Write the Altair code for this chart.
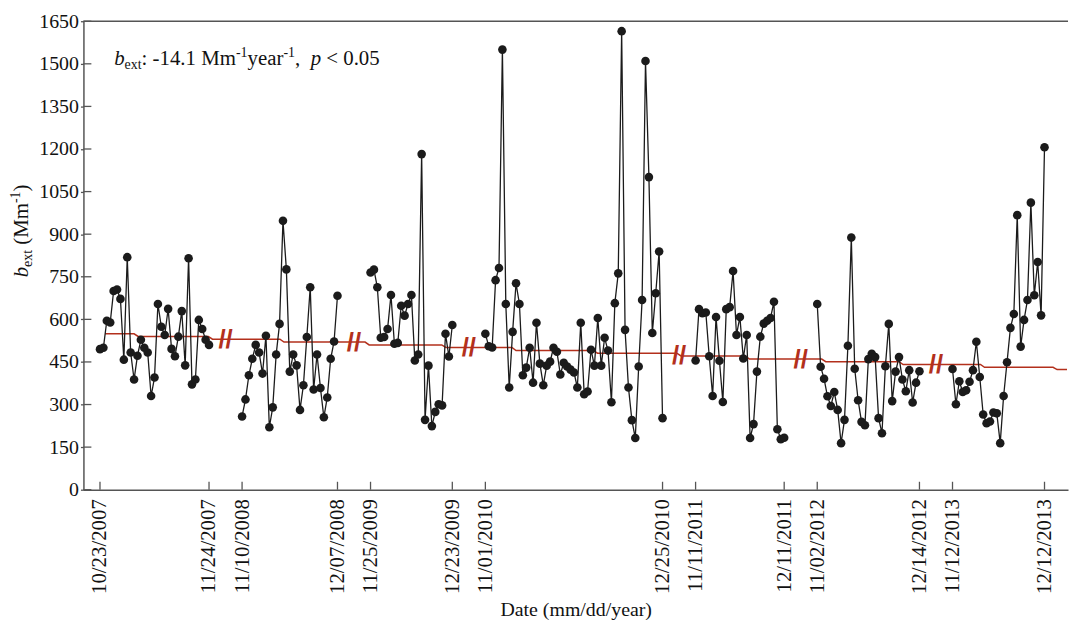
import altair as alt
import pandas as pd
import numpy as np

# ---------------- data ----------------
start_labels = ["10/23/2007", "11/10/2008", "11/25/2009", "11/01/2010", "11/11/2011", "11/02/2012", "11/12/2013"]
end_labels = ["11/24/2007", "12/07/2008", "12/23/2009", "12/25/2010", "12/11/2011", "12/14/2012", "12/12/2013"]

s1 = [495, 500, 595, 589, 700, 705, 672, 458, 819, 483, 388, 472, 528, 500, 483, 330, 395,
      654, 574, 545, 637, 496, 470, 539, 629, 438, 815, 371, 388, 598, 566, 528, 510]
s2 = [258, 318, 403, 461, 510, 483, 409, 542, 220, 290, 476, 584, 947, 776, 416, 476, 438,
      281, 368, 538, 713, 353, 476, 358, 255, 325, 461, 522, 683]
s3 = [765, 775, 713, 535, 538, 566, 686, 514, 517, 648, 613, 654, 686, 455, 476, 1182, 246,
      437, 224, 274, 301, 297, 549, 469, 580]
s4 = [549, 505, 501, 738, 781, 1550, 654, 360, 556, 727, 654, 403, 430, 500, 377, 588, 444,
      368, 437, 451, 500, 486, 406, 447, 434, 423, 413, 360, 588, 336, 346, 493, 437, 605,
      437, 535, 490, 308, 657, 762, 1615, 563, 360, 245, 182, 434, 668, 1510, 1101, 552,
      692, 839, 252]
s5 = [455, 636, 622, 624, 470, 330, 608, 454, 309, 636, 643, 770, 545, 608, 462, 545, 182,
      231, 416, 539, 585, 595, 605, 662, 213, 178, 183]
s6 = [654, 433, 391, 329, 295, 344, 281, 164, 246, 507, 888, 426, 315, 239, 227, 460, 479,
      467, 252, 199, 435, 584, 312, 416, 467, 388, 347, 421, 307, 377, 417]
s7 = [425, 301, 382, 344, 350, 380, 421, 521, 397, 265, 234, 240, 272, 269, 164, 330, 449,
      570, 619, 967, 504, 598, 668, 1011, 685, 802, 614, 1206]
segments = [s1, s2, s3, s4, s5, s6, s7]

# trend (red line): step locations on the observation axis and levels
trend_steps = [10.6, 32.4, 53.4, 78.4, 100.9, 121.5, 145.4, 169.9, 190.0, 212.4, 235.1, 259.0, 280.3]
trend_levels = [549, 540, 530, 520, 510, 501, 490, 481, 471, 460, 451, 441, 431, 423]
trend_start = 1.5
trend_end = 283.8

y_ticks = [0, 150, 300, 450, 600, 750, 900, 1050, 1200, 1350, 1500, 1650]

# ---------------- build tables ----------------
GAP = 9.7
rows, bounds = [], []
pos = 0.0
for k, vals in enumerate(segments):
    start = pos
    for i, v in enumerate(vals):
        rows.append({"u": start + i, "v": v, "seg": k})
    end = start + len(vals) - 1
    bounds.append((start, end))
    pos = end + GAP
obs = pd.DataFrame(rows)

tick_vals, tick_labs = [], []
for (a, b), la, lb in zip(bounds, start_labels, end_labels):
    tick_vals += [round(a, 3), round(b, 3)]
    tick_labs += [la, lb]
label_expr = ""
for tv, tl in zip(tick_vals, tick_labs):
    label_expr += f"abs(datum.value - {tv}) < 0.01 ? '{tl}' : "
label_expr += "''"

tr = [{"u": trend_start, "t": trend_levels[0]}]
for su, a, b in zip(trend_steps, trend_levels[:-1], trend_levels[1:]):
    tr.append({"u": su - 0.6, "t": a})
    tr.append({"u": su + 0.6, "t": b})
tr.append({"u": trend_end, "t": trend_levels[-1]})
trend = pd.DataFrame(tr)

brk = []
for k in range(len(bounds) - 1):
    c = (bounds[k][1] + bounds[k + 1][0]) / 2
    brk.append({"u": c, "t": float(np.interp(c, trend["u"], trend["t"]))})
breaks = pd.DataFrame(brk)

W, H = 992, 472
FONT = "Liberation Serif"
RED = "#b3301c"
INK = "#1b1b1b"
AX = "#555555"

xscale = alt.Scale(domain=[-4.86, 284.1], nice=False, zero=False)
yscale = alt.Scale(domain=[0, 1650], nice=False)
xaxis = alt.Axis(values=tick_vals, labelExpr=label_expr, title="Date (mm/dd/year)",
                 labelAngle=270, labelAlign="right", labelBaseline="middle",
                 labelFont=FONT, labelFontSize=21, labelColor="#111", labelPadding=9,
                 ticks=True, tickSize=0, grid=False, domainColor=AX, domainWidth=1.5,
                 titleFont=FONT, titleFontSize=20, titleFontWeight="normal", titleColor="#111",
                 titlePadding=6, labelOverlap=False, labelFlush=False)
yaxis = alt.Axis(values=y_ticks, format="d", title=None, labelFont=FONT, labelFontSize=20,
                 labelColor="#111", labelPadding=2, ticks=True, tickSize=3, tickColor=AX,
                 tickWidth=1.3, grid=False, domainColor=AX, domainWidth=1.5, labelFlush=False)

X = lambda f: alt.X(f, type="quantitative", scale=xscale, axis=xaxis)
Y = lambda f: alt.Y(f, type="quantitative", scale=yscale, axis=yaxis)

one = alt.Data(values=[{}])

ytick_in = alt.Chart(pd.DataFrame({"v": y_ticks})).mark_rule(color=AX, strokeWidth=1.3).encode(
    y=Y("v"), x=alt.value(0), x2=alt.value(8))
xtick_in = alt.Chart(pd.DataFrame({"u": tick_vals})).mark_rule(color=AX, strokeWidth=1.3).encode(
    x=X("u"), y=alt.value(H - 8), y2=alt.value(H))
top_line = alt.Chart(one).mark_rule(color=AX, strokeWidth=1.5).encode(
    x=alt.value(0), x2=alt.value(W), y=alt.value(0))

trend_line = alt.Chart(trend).mark_line(color=RED, strokeWidth=1.5).encode(x=X("u"), y=Y("t"))
break_marks = alt.Chart(breaks).mark_text(text="//", color=RED, font="Liberation Sans",
                                          fontWeight="bold", fontSize=26, baseline="middle",
                                          align="center", dy=1).encode(x=X("u"), y=Y("t"))

line = alt.Chart(obs).mark_line(color=INK, strokeWidth=1.3).encode(
    x=X("u"), y=Y("v"), detail="seg:N", order="u:Q")
pts = alt.Chart(obs).mark_point(filled=True, color=INK, size=75, opacity=1, shape="circle").encode(
    x=X("u"), y=Y("v"))

WID = {" ": .25, "(": .333, ")": .333, ",": .25, "-": .333, ".": .25, "/": .278, ":": .278,
       "<": .564, "M": .889, "a": .444, "b": .5, "e": .444, "m": .778, "p": .5, "r": .333,
       "t": .278, "x": .5, "y": .5}


def width(s, size):
    return sum(WID.get(c, .5) for c in s) * size


def rich(pieces, x, y, angle=0):
    layers = []
    off = 0.0
    for txt, size, style, dy in pieces:
        lead = len(txt) - len(txt.lstrip(" "))
        off += lead * WID[" "] * size
        body = txt.strip(" ")
        trail = len(txt) - lead - len(body)
        if body:
            kw = dict(text=body, font=FONT, fontSize=size, align="left", baseline="alphabetic",
                      color="#111", dx=off, dy=dy)
            if style:
                kw["fontStyle"] = style
            if angle:
                kw["angle"] = angle
            layers.append(alt.Chart(one).mark_text(**kw).encode(x=alt.value(x), y=alt.value(y)))
        off += width(body, size) + trail * WID[" "] * size
    return layers

F = 21
S = 14
annot = rich([("b", F, "italic", 0), ("ext", S, None, 4), (": -14.1 Mm", F, None, 0),
              ("-1", S, None, -8), ("year", F, None, 0), ("-1", S, None, -8),
              (",  ", F, None, 0), ("p", F, "italic", 0), (" < 0.05", F, None, 0)], 31, 44)
ytitle = rich([("b", 21, "italic", 0), ("ext", 14, None, 4), (" (Mm", 21, None, 0),
               ("-1", 14, None, -8), (")", 21, None, 0)], -56, 258, angle=270)

chart = alt.layer(ytick_in, xtick_in, top_line, trend_line, break_marks, line, pts,
                  *annot, *ytitle).properties(
    width=W, height=H,
    autosize=alt.AutoSizeParams(type="none"),
    padding={"left": 76, "top": 11, "right": 2, "bottom": 136},
).configure_view(strokeWidth=0)

chart.save("out.html", embed_options={"renderer": "svg", "actions": False})
